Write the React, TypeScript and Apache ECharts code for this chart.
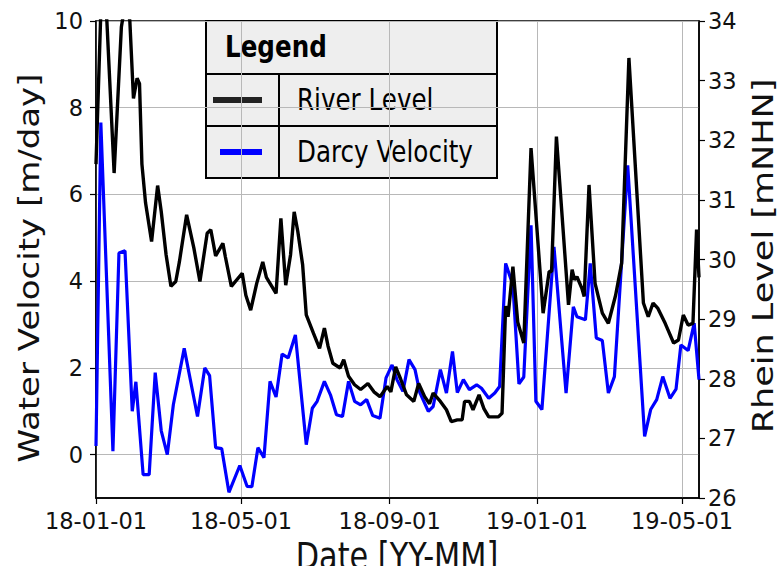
import React, { useEffect, useRef } from 'react';
import * as echarts from 'echarts';

// ---- data ----
const START_DATE = '2018-01-01';
const END_DATE = '2019-05-15';
const xTickDates = ['2018-01-01', '2018-05-01', '2018-09-01', '2019-01-01', '2019-05-01'];
const velocityTicks = [0, 2, 4, 6, 8, 10];
const levelTicks = [26, 27, 28, 29, 30, 31, 32, 33, 34];
const seriesNames = ['River Level', 'Darcy Velocity'];
const axisNames = ['Date [YY-MM]', 'Water Velocity [m/day]', 'Rhein Level [mNHN]'];
const legendTitle = 'Legend';

// days since START_DATE
const darcyDays = [0, 4, 14, 19, 24, 30, 33, 39, 44, 49, 54, 59, 64, 73, 84, 90, 94, 99, 104, 110, 119, 125, 129, 134, 139, 144, 149, 154, 159, 165, 174, 179, 183, 189, 194, 199, 204, 209, 214, 219, 224, 229, 235, 240, 245, 249, 254, 259, 264, 268, 275, 279, 285, 290, 295, 299, 304, 309, 315, 319, 325, 330, 334, 339, 345, 350, 354, 360, 364, 369, 379, 389, 395, 398, 405, 409, 414, 419, 424, 429, 440, 454, 459, 464, 469, 475, 480, 484, 490, 495, 499];
const darcyVelocity = [0.2, 7.66, 0.08, 4.65, 4.7, 1.0, 1.68, -0.46, -0.46, 1.89, 0.55, 0.0, 1.15, 2.45, 0.88, 2.0, 1.82, 0.16, 0.14, -0.87, -0.25, -0.73, -0.74, 0.16, -0.07, 1.69, 1.33, 2.32, 2.23, 2.76, 0.23, 1.07, 1.23, 1.69, 1.38, 0.92, 0.88, 1.69, 1.23, 1.15, 1.27, 0.9, 0.84, 1.77, 2.07, 1.73, 1.46, 2.19, 1.96, 1.43, 1.0, 1.11, 1.96, 1.42, 2.38, 1.43, 1.73, 1.5, 1.61, 1.53, 1.3, 1.42, 1.57, 4.41, 3.91, 1.63, 1.79, 5.29, 1.23, 1.04, 4.79, 1.42, 3.41, 3.18, 3.11, 4.41, 2.69, 2.63, 1.42, 1.8, 6.67, 0.42, 1.04, 1.27, 1.8, 1.3, 1.51, 2.53, 2.4, 3.03, 1.73];

const riverDays = [0, 5, 9, 15, 21, 25, 28, 31, 34, 36, 38, 41, 46, 51, 54, 58, 62, 66, 69, 75, 81, 86, 92, 95, 99, 105, 107, 112, 121, 124, 128, 133, 138, 141, 144, 149, 153, 157, 161, 164, 167, 171, 174, 180, 185, 189, 192, 196, 202, 205, 209, 214, 219, 225, 230, 235, 241, 244, 248, 252, 257, 263, 267, 272, 276, 279, 285, 290, 294, 299, 303, 305, 309, 312, 317, 321, 325, 333, 336, 339, 341, 345, 349, 354, 360, 370, 375, 377, 381, 391, 394, 396, 398, 402, 404, 408, 413, 419, 424, 430, 435, 441, 453, 457, 461, 465, 471, 478, 482, 486, 490, 494, 497, 499];
const riverLevel = [31.6, 34.8, 34.0, 31.45, 33.9, 34.4, 34.0, 32.7, 33.04, 32.95, 31.6, 30.95, 30.3, 31.24, 30.8, 30.08, 29.55, 29.63, 29.96, 30.75, 30.19, 29.63, 30.44, 30.5, 30.06, 30.27, 30.05, 29.55, 29.77, 29.4, 29.15, 29.6, 29.96, 29.7, 29.6, 29.43, 30.69, 29.57, 30.08, 30.8, 30.47, 29.91, 29.07, 28.76, 28.51, 28.85, 28.55, 28.26, 28.18, 28.32, 28.04, 27.9, 27.82, 27.92, 27.78, 27.7, 27.87, 27.78, 28.2, 28.0, 27.73, 27.62, 27.92, 27.7, 27.58, 27.76, 27.62, 27.48, 27.28, 27.31, 27.31, 27.62, 27.62, 27.48, 27.73, 27.5, 27.36, 27.36, 27.42, 29.22, 29.04, 29.88, 28.95, 28.6, 31.87, 29.1, 29.8, 29.8, 32.06, 29.24, 29.83, 29.66, 29.71, 29.52, 29.38, 31.25, 29.6, 29.1, 28.93, 29.4, 29.94, 33.38, 29.27, 29.04, 29.27, 29.18, 28.93, 28.6, 28.65, 29.07, 28.9, 28.93, 30.5, 29.7];

const DAY_MS = 86400000;
const FONT = "'DejaVu Sans', 'Liberation Sans', sans-serif";
const SQUEEZE = 0.82;

const toTime = (s: string) => Date.parse(s + 'T00:00:00Z');
const pad = (n: number) => (n < 10 ? '0' + n : '' + n);
const fmtDate = (v: number) => {
  const d = new Date(v);
  return String(d.getUTCFullYear()).slice(2) + '-' + pad(d.getUTCMonth() + 1) + '-' + pad(d.getUTCDate());
};

export default function App() {
  const ref = useRef<HTMLDivElement>(null);
  useEffect(() => {
    if (!ref.current) return;
    const chart = echarts.init(ref.current, undefined, { renderer: 'svg' });
    const t0 = toTime(START_DATE);
    const tEnd = toTime(END_DATE);
    const xTicks = xTickDates.map(toTime);
    const darcyData = darcyDays.map((d, i) => [t0 + d * DAY_MS, darcyVelocity[i]]);
    const riverData = riverDays.map((d, i) => [t0 + d * DAY_MS, riverLevel[i]]);

    const tickFont = { fontSize: 22.5, color: '#111', fontFamily: FONT };

    chart.setOption({
      animation: false,
      backgroundColor: '#fff',
      grid: { left: 96, right: 80, top: 21, bottom: 68, show: true, borderColor: '#000', borderWidth: 1.5, containLabel: false },
      xAxis: {
        type: 'value',
        min: t0,
        max: tEnd,
        axisLine: { show: true, onZero: false, lineStyle: { color: '#000', width: 1.5 } },
        axisTick: { show: true, length: 6, customValues: xTicks, lineStyle: { color: '#000', width: 1.2 } },
        axisLabel: { ...tickFont, customValues: xTicks, margin: 11, formatter: (v: number) => fmtDate(v) },
        splitLine: { show: true, lineStyle: { color: '#b8b8b8', width: 1 } },
      },
      yAxis: [
        {
          type: 'value',
          position: 'left',
          min: -1,
          max: 10,
          axisLine: { show: true, lineStyle: { color: '#000', width: 1.5 } },
          axisTick: { show: true, length: 6, customValues: velocityTicks, lineStyle: { color: '#000', width: 1.2 } },
          axisLabel: { ...tickFont, customValues: velocityTicks, margin: 13 },
          splitLine: { show: true, lineStyle: { color: '#b8b8b8', width: 1 } },
        },
        {
          type: 'value',
          position: 'right',
          min: 26,
          max: 34,
          axisLine: { show: true, lineStyle: { color: '#000', width: 1.5 } },
          axisTick: { show: true, length: 6, customValues: levelTicks, lineStyle: { color: '#000', width: 1.2 } },
          axisLabel: { ...tickFont, customValues: levelTicks, margin: 9 },
          splitLine: { show: false },
        },
      ],
      series: [
        {
          name: seriesNames[1],
          type: 'line',
          yAxisIndex: 0,
          data: darcyData,
          showSymbol: false,
          symbol: 'none',
          clip: true,
          lineStyle: { color: '#0000ff', width: 3.2 },
          z: 2,
        },
        {
          name: seriesNames[0],
          type: 'line',
          yAxisIndex: 1,
          data: riverData,
          showSymbol: false,
          symbol: 'none',
          clip: true,
          lineStyle: { color: '#000000', width: 3.4 },
          z: 3,
        },
      ],
      graphic: [
        // axis names
        {
          type: 'text', x: 397, y: 556, scaleX: SQUEEZE,
          style: { text: axisNames[0], fontSize: 37, fontFamily: FONT, fill: '#111', align: 'center', verticalAlign: 'middle' },
        },
        {
          type: 'text', x: 29, y: 268, rotation: Math.PI / 2, scaleY: SQUEEZE,
          style: { text: axisNames[1], fontSize: 34, fontFamily: FONT, fill: '#111', align: 'center', verticalAlign: 'middle' },
        },
        {
          type: 'text', x: 763, y: 256, rotation: Math.PI / 2, scaleY: SQUEEZE,
          style: { text: axisNames[2], fontSize: 35, fontFamily: FONT, fill: '#111', align: 'center', verticalAlign: 'middle' },
        },
        // legend table
        {
          type: 'group', z: 100,
          children: [
            { type: 'rect', shape: { x: 206, y: 21, width: 291, height: 157 }, style: { fill: '#eeeeee', stroke: '#000', lineWidth: 2 } },
            { type: 'line', shape: { x1: 206, y1: 74, x2: 497, y2: 74 }, style: { stroke: '#000', lineWidth: 2 } },
            { type: 'line', shape: { x1: 206, y1: 126, x2: 497, y2: 126 }, style: { stroke: '#000', lineWidth: 2 } },
            { type: 'line', shape: { x1: 279, y1: 74, x2: 279, y2: 178 }, style: { stroke: '#000', lineWidth: 2 } },
            { type: 'text', x: 225, y: 47, scaleX: SQUEEZE, style: { text: legendTitle, fontSize: 30, fontWeight: 'bold', fontFamily: FONT, fill: '#000', align: 'left', verticalAlign: 'middle' } },
            { type: 'line', shape: { x1: 213, y1: 100, x2: 262, y2: 100 }, style: { stroke: '#222', lineWidth: 6 } },
            { type: 'text', x: 297, y: 100, scaleX: SQUEEZE, style: { text: seriesNames[0], fontSize: 30, fontFamily: FONT, fill: '#000', align: 'left', verticalAlign: 'middle' } },
            { type: 'line', shape: { x1: 220, y1: 152, x2: 262, y2: 152 }, style: { stroke: '#0000ff', lineWidth: 6 } },
            { type: 'text', x: 297, y: 152, scaleX: SQUEEZE, style: { text: seriesNames[1], fontSize: 30, fontFamily: FONT, fill: '#000', align: 'left', verticalAlign: 'middle' } },
          ],
        },
      ],
    });
    return () => chart.dispose();
  }, []);
  return <div ref={ref} style={{ position: 'fixed', left: 0, top: 0, width: 779, height: 566 }} />;
}
